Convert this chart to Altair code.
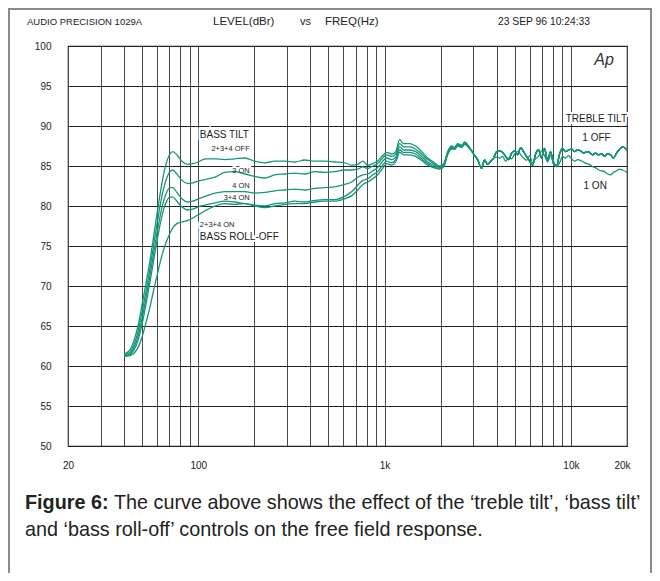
import altair as alt
import pandas as pd

# ---------------- data ----------------
FREQ_LOW = [40, 43, 45.2, 47.5, 49.9, 52.4, 55.1, 57.8, 60.8, 63.8, 67.1, 70.5, 73.1, 76.8, 81.7, 88, 93.6, 100,
            109, 123, 139, 157, 178, 201, 228, 258, 291, 330, 373, 422, 478, 540, 611, 667, 718, 764, 812, 864, 918, 977,
            1027, 1092, 1148, 1205, 1266, 1364, 1469, 1582, 1704, 1835, 1975, 2076, 2181, 2290, 2378, 2466, 2592, 2690,
            2860, 3043, 3158]

BASS_234_OFF = [61.5, 62.0, 63.2, 65.0, 67.6, 70.3, 73.2, 76.4, 79.8, 82.8, 85.2, 86.5, 86.8, 86.4, 85.6, 85.2, 85.3, 85.5,
                85.9, 85.9, 85.8, 85.9, 86.0, 85.6, 85.4, 85.6, 85.6, 85.5, 85.75, 85.6, 85.6, 85.5, 85.4, 85.1, 85.2, 85.6,
                85.1, 85.3, 85.6, 86.3,
                86.7, 86.5, 86.8, 88.3, 87.8, 87.8, 87.5, 86.8, 86.0, 85.5, 85.0, 85.3, 86.8, 87.5, 87.3, 87.8, 87.6, 88.0,
                87.3, 86.3, 85.8]
BASS_3_ON = [61.4, 61.7, 62.7, 64.3, 66.7, 69.3, 72.2, 75.3, 78.5, 81.2, 83.2, 84.3, 84.5, 84.0, 83.2, 82.8, 82.9, 83.1,
             83.3, 83.6, 84.2, 84.3, 84.0, 83.7, 83.5, 83.9, 84.0, 84.1, 84.0, 84.3, 84.2, 84.3, 84.5, 84.5, 84.6, 84.9,
             84.7, 85.0, 85.3, 86.0,
             86.4, 86.2, 86.5, 87.8, 87.4, 87.4, 87.1, 86.5, 85.8, 85.3, 84.9, 85.2, 86.7, 87.4, 87.3, 87.7, 87.5, 87.9,
             87.3, 86.3, 85.8]
BASS_4_ON = [61.3, 61.5, 62.3, 63.7, 65.9, 68.5, 71.3, 74.3, 77.3, 79.8, 81.5, 82.3, 82.3, 81.7, 80.9, 80.5, 80.6, 80.9,
             81.2, 81.6, 81.8, 81.8, 81.8, 81.6, 81.7, 81.9, 82.0, 82.1, 82.0, 82.2, 82.3, 82.4, 82.7, 83.0, 83.6, 83.9,
             84.0, 84.4, 84.8, 85.6,
             86.0, 85.8, 86.1, 87.4, 87.0, 87.0, 86.8, 86.2, 85.5, 85.1, 84.8, 85.1, 86.6, 87.3, 87.2, 87.6, 87.5, 87.8,
             87.2, 86.3, 85.8]
BASS_34_ON = [61.3, 61.4, 62.0, 63.2, 65.2, 67.7, 70.5, 73.4, 76.3, 78.7, 80.4, 81.1, 81.1, 80.6, 79.9, 79.5, 79.6, 79.9,
              80.1, 80.4, 80.6, 80.5, 80.3, 80.1, 80.0, 80.3, 80.4, 80.6, 80.5, 80.7, 80.8, 80.8, 81.2, 81.8, 82.6, 83.2,
              83.4, 83.9, 84.3, 85.1,
              85.6, 85.4, 85.8, 87.0, 86.7, 86.7, 86.5, 85.9, 85.3, 84.9, 84.7, 85.0, 86.5, 87.2, 87.1, 87.5, 87.4, 87.7,
              87.2, 86.3, 85.8]
BASS_ROLL_OFF = [61.2, 61.3, 61.6, 62.3, 63.6, 65.4, 67.4, 69.6, 71.8, 73.8, 75.4, 76.6, 77.3, 77.8, 78.0, 78.2, 78.5, 78.9,
                 79.4, 80.0, 80.3, 80.2, 80.3, 80.0, 79.8, 80.0, 80.2, 80.3, 80.3, 80.5, 80.6, 80.6, 80.9, 81.3, 82.0, 82.7,
                 83.0, 83.4, 83.9, 84.7,
                 85.3, 85.1, 85.5, 86.7, 86.4, 86.4, 86.2, 85.7, 85.1, 84.8, 84.6, 84.9, 86.4, 87.1, 87.1, 87.5, 87.3, 87.7,
                 87.2, 86.3, 85.8]

FREQ_HIGH = [3318, 3444, 3573, 3708, 3848, 3993, 4144, 4300, 4462, 4631, 4806, 4988, 5176, 5371, 5573, 5784, 6002,
             6228, 6463, 6707, 6960, 7222, 7494, 7777, 8070, 8375, 8691, 9019, 9359, 9712, 10079, 10459, 10854, 11263,
             11689, 12130, 12588, 13063, 13556, 14068, 14599, 15150, 15721, 16315, 16931, 17570, 18233, 18921, 20000]
TREBLE_OFF = [84.7, 85.75, 85.2, 85.6, 86.0, 86.8, 86.9, 86.7, 86.2, 85.8, 86.6, 86.9, 86.4, 87.3, 86.8, 86.2, 85.6,
              85.1, 86.5, 87.0, 86.0, 87.2, 85.7, 86.8, 85.3, 85.0, 86.5, 87.2, 86.8, 87.0, 87.1, 86.8, 87.0, 86.9,
              86.6, 86.8, 86.7, 86.4, 86.6, 86.4, 86.5, 86.2, 86.5, 86.4, 86.0, 86.6, 87.1, 87.4, 87.0]
TREBLE_ON = [84.7, 85.75, 85.2, 85.6, 86.0, 86.1, 86.0, 86.2, 85.6, 86.0, 85.9, 86.5, 86.8, 86.4, 86.0, 85.7, 86.3,
             85.4, 85.9, 86.2, 86.9, 86.3, 85.5, 86.3, 85.6, 84.9, 85.4, 86.2, 86.0, 86.3, 85.9, 85.6, 85.8, 85.7,
             85.5, 85.3, 85.2, 84.9, 84.8, 84.5, 84.4, 84.3, 84.0, 83.9, 84.2, 84.4, 84.6, 84.5, 84.2]

GRID_F = [20, 30, 40, 50, 60, 70, 80, 90, 100, 200, 300, 400, 500, 600, 700, 800, 900, 1000,
          2000, 3000, 4000, 5000, 6000, 7000, 8000, 9000, 10000, 20000]
GRID_DB = [50, 55, 60, 65, 70, 75, 80, 85, 90, 95, 100]

# annotation anchors (data coordinates)
BIG_LEFT_TEXT = ["BASS TILT", "BASS ROLL-OFF"]
BIG_LEFT_F = [102, 102]
BIG_LEFT_DB = [88.9, 76.1]
SMALL_RIGHT_TEXT = ["2+3+4 OFF", "3 ON", "4 ON", "3+4 ON"]
SMALL_RIGHT_F = [189, 189, 189, 189]
SMALL_RIGHT_DB = [87.1, 84.4, 82.5, 81.0]
SMALL_LEFT_TEXT = ["2+3+4 ON"]
SMALL_LEFT_F = [102]
SMALL_LEFT_DB = [77.6]
TREBLE_TEXT = ["TREBLE TILT"]
TREBLE_F = [20000]
TREBLE_DB = [90.9]
CENTER_TEXT = ["1 OFF", "1 ON"]
CENTER_F = [13725, 13500]
CENTER_DB = [88.5, 82.5]

# ---------------- build table ----------------
rows = []
for name, vals in [("2+3+4 OFF", BASS_234_OFF), ("3 ON", BASS_3_ON), ("4 ON", BASS_4_ON),
                   ("3+4 ON", BASS_34_ON), ("2+3+4 ON", BASS_ROLL_OFF)]:
    for f, v in zip(FREQ_LOW + FREQ_HIGH, vals + TREBLE_OFF):
        rows.append({"curve": name, "freq": f, "db": v})
for f, v in zip(FREQ_HIGH, TREBLE_ON):
    rows.append({"curve": "1 ON", "freq": f, "db": v})
df = pd.DataFrame(rows)

FONT = "Liberation Sans, Arial, sans-serif"
TEAL = "#17957a"

xscale = alt.Scale(type="log", domain=[20, 20000], nice=False, zero=False)
yscale = alt.Scale(domain=[50, 100], nice=False, zero=False)

label_expr = ("datum.value == 20 ? '20' : datum.value == 100 ? '100' : datum.value == 1000 ? '1k' : "
              "datum.value == 10000 ? '10k' : datum.value == 20000 ? '20k' : ''")

XAX = alt.Axis(values=GRID_F, labelExpr=label_expr, grid=True, gridColor="#4a4a4a", gridWidth=1,
               ticks=False, domain=False, labelPadding=14, labelFontSize=10, labelColor="#222",
               labelFont=FONT, labelOverlap=False, labelFlush=False, title=None,
               labelOffset=alt.expr("datum.value == 20000 ? -5 : 0"))
YAX = alt.Axis(values=GRID_DB, grid=True, gridColor="#222", gridWidth=1, ticks=False, domain=False,
               labelPadding=17, labelFontSize=10, labelColor="#222", labelFont=FONT,
               labelOverlap=False, labelFlush=False, title=None)
X = alt.X("freq:Q", scale=xscale, axis=XAX, title=None)
Y = alt.Y("db:Q", scale=yscale, axis=YAX, title=None)

lines = alt.Chart(df).mark_line(color=TEAL, strokeWidth=1.3, interpolate="monotone").encode(
    x=X, y=Y, detail="curve:N", order="freq:Q")


def ann(texts, fs, dbs, align, size, halo=False):
    d = pd.DataFrame({"t": texts, "freq": fs, "db": dbs})
    kw = dict(align=align, baseline="middle", fontSize=size, font=FONT)
    if halo:
        kw.update(color="white", stroke="white", strokeWidth=4)
    else:
        kw.update(color="#222")
    return alt.Chart(d).mark_text(**kw).encode(x=X, y=Y, text="t:N")


ann_specs = [
    (BIG_LEFT_TEXT, BIG_LEFT_F, BIG_LEFT_DB, "left", 10),
    (SMALL_RIGHT_TEXT, SMALL_RIGHT_F, SMALL_RIGHT_DB, "right", 7.5),
    (SMALL_LEFT_TEXT, SMALL_LEFT_F, SMALL_LEFT_DB, "left", 7.5),
    (TREBLE_TEXT, TREBLE_F, TREBLE_DB, "right", 10),
    (CENTER_TEXT, CENTER_F, CENTER_DB, "center", 10),
]
halos = [ann(*s, halo=True) for s in ann_specs]
texts = [ann(*s) for s in ann_specs]


def label(s, px, py, size, align="left", weight="normal", style="normal", color="#222"):
    return alt.Chart(pd.DataFrame({"t": [s]})).mark_text(
        align=align, baseline="middle", fontSize=size, font=FONT, fontWeight=weight, fontStyle=style,
        color=color).encode(x=alt.value(px), y=alt.value(py), text="t:N")


header = [
    label("AUDIO PRECISION 1029A", -41, -24, 9.5),
    label("LEVEL(dBr)", 145, -24, 11.5),
    label("vs", 232, -24, 11),
    label("FREQ(Hz)", 257, -24, 11.5),
    label("23  SEP 96  10:24:33", 430, -24, 10.3),
    label("Ap", 536, 14, 16, align="center", style="italic", color="#333"),
    label("Figure 6:", -43, 457, 19.8, weight="bold"),
    label("The curve above shows the effect of the \u2018treble tilt\u2019, \u2018bass tilt\u2019", 46, 457, 19.8),
    label("and \u2018bass roll-off\u2019 controls on the free field response.", -43, 484, 19.8),
]

frame = alt.Chart(pd.DataFrame({"t": [0]})).mark_rect(
    fillOpacity=0, stroke="#8a8a8a", strokeWidth=2).encode(
    x=alt.value(-59), x2=alt.value(583), y=alt.value(-37), y2=alt.value(600))

chart = alt.layer(*halos, lines, *texts, *header, frame).properties(
    width=559, height=400,
    autosize=alt.AutoSizeParams(type="none"),
    padding={"left": 60, "top": 38, "right": 25, "bottom": 127},
    background="white",
).configure_view(stroke="#222", strokeWidth=1.2)

chart.save("out.html", embed_options={"renderer": "svg", "actions": False})
